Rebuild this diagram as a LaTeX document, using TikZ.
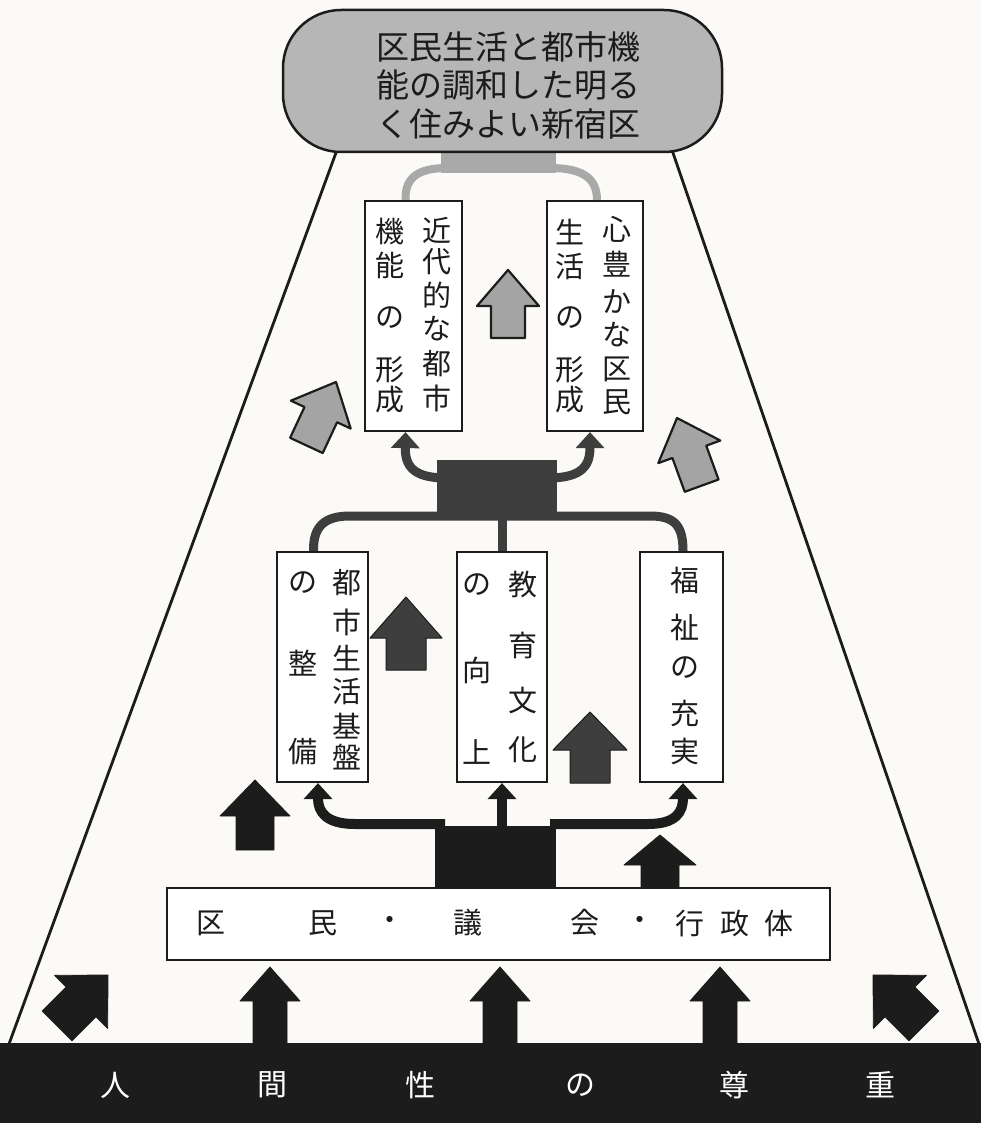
\documentclass[tikz,border=0pt]{standalone}
\usepackage{fontspec}
\setmainfont{Noto Sans CJK JP}
\usetikzlibrary{calc,arrows.meta}
\definecolor{paper}{HTML}{FBFAF6}
\definecolor{pillgray}{HTML}{B6B6B6}
\definecolor{lgray}{HTML}{A9A9A9}
\definecolor{agray}{HTML}{A4A4A4}
\definecolor{dgray}{HTML}{3E3E3E}
\definecolor{ink}{HTML}{1C1C1C}
\newcommand\blockarrow[8]{%
  \begin{scope}[shift={(#1,#2)},rotate=#3]
    \filldraw[#8] (0,0) -- (#4,#5) -- (#6,#5) -- (#6,#7) -- (-#6,#7) -- (-#6,#5) -- (-#4,#5) -- cycle;
  \end{scope}}
\tikzset{
  box/.style={draw=ink, line width=2.2pt, fill=white, inner sep=0pt},
  ch/.style={font=\fontsize{29}{29}\selectfont, inner sep=0pt, text=ink},
  pill/.style={draw=ink, line width=2.5pt, fill=pillgray, rounded corners=58pt, minimum width=439pt, minimum height=142pt, inner sep=0pt},
  pilltxt/.style={align=center, font=\fontsize{33}{38.5}\selectfont, inner sep=0pt, text=ink},
  bandtxt/.style={font=\fontsize{30}{30}\selectfont, inner sep=0pt, text=white},
  darr/.style={fill=dgray, draw=ink, line width=1pt, line join=round},
  garr/.style={fill=agray, draw=ink, line width=2.2pt, line join=round},
  barr/.style={fill=ink, draw=ink, line width=0.8pt, line join=round},
  gconn/.style={draw=lgray, line width=8pt},
  mconn/.style={draw=dgray, line width=9pt},
  lconn/.style={draw=ink, line width=10pt},
  tip/.style={-{Triangle[width=28pt,length=16pt]}}
}
\begin{document}
\begin{tikzpicture}[x=1pt,y=-1pt]
\fill[paper] (0,0) rectangle (981,1123);
\useasboundingbox (0,0) rectangle (981,1123);

% trapezoid
\coordinate (tl) at (337,150);
\coordinate (tr) at (672,150);
\coordinate (bl) at (9,1044);
\coordinate (br) at (979,1044);
\draw[ink, line width=2.8pt] (tl) -- (bl);
\draw[ink, line width=2.8pt] (tr) -- (br);

% bottom band
\fill[ink] (0,1043) rectangle (981,1123);
\node[bandtxt] (b1) at (115,1085) {人};
\node[bandtxt] (b2) at (272,1085) {間};
\node[bandtxt] (b3) at (420,1085) {性};
\node[bandtxt] (b4) at (580,1085) {の};
\node[bandtxt] (b5) at (734,1085) {尊};
\node[bandtxt] (b6) at (880,1085) {重};

% top gray connector
\fill[lgray] (441,148) rectangle (556,173);

% goal pill
\node[pill] (goal) at (502.5,81) {};
\node[pilltxt] (goaltxt) at (508,85) {区民生活と都市機\\能の調和した明る\\く住みよい新宿区};

% upper boxes
\node[box, minimum width=97pt, minimum height=230pt] (ul) at (413.5,316) {};
\node[box, minimum width=96pt, minimum height=230pt] (ur) at (595,316) {};
\draw[gconn] (447,168) .. controls (415,168) and (405,180) .. ($(ul.north)+(-8,0)$);
\draw[gconn] (550,168) .. controls (585,168) and (597,180) .. ($(ur.north)+(2,0)$);

\foreach \c/\yy [count=\i] in {近/230,代/262,的/295,な/329,都/364,市/398}
  \node[ch] (ulr\i) at (437,\yy) {\c};
\foreach \c/\yy [count=\i] in {機/232,能/265,の/318,形/370,成/400}
  \node[ch] (ull\i) at (390,\yy) {\c};
\foreach \c/\yy [count=\i] in {心/229,豊/264,か/301,な/335,区/369,民/402}
  \node[ch] (urr\i) at (617,\yy) {\c};
\foreach \c/\yy [count=\i] in {生/232,活/267,の/318,形/370,成/400}
  \node[ch] (url\i) at (570,\yy) {\c};

% middle boxes
\node[box, minimum width=91pt, minimum height=230pt] (lb) at (322.5,667) {};
\node[box, minimum width=90pt, minimum height=230pt] (mb) at (502,667) {};
\node[box, minimum width=83pt, minimum height=230pt] (rb) at (681.5,667) {};

\foreach \c/\yy [count=\i] in {都/583,市/622,生/658,活/692,基/726,盤/757}
  \node[ch] (lbr\i) at (347,\yy) {\c};
\foreach \c/\yy [count=\i] in {の/583,整/663,備/752}
  \node[ch] (lbl\i) at (303,\yy) {\c};
\foreach \c/\yy [count=\i] in {教/585,育/645,文/700,化/750}
  \node[ch] (mbr\i) at (523,\yy) {\c};
\foreach \c/\yy [count=\i] in {の/585,向/670,上/752}
  \node[ch] (mbl\i) at (477,\yy) {\c};
\foreach \c/\yy [count=\i] in {福/580,祉/627,の/668,充/713,実/752}
  \node[ch] (rbc\i) at (685,\yy) {\c};

% middle dark connector
\fill[dgray] (437,460) rectangle (557,514);
\draw[mconn, tip] (446,478) .. controls (412,478) and (405,465) .. ($(ul.south)+(-8,0)$);
\draw[mconn, tip] (548,478) .. controls (583,478) and (590,465) .. ($(ur.south)+(-5,0)$);
\draw[mconn] ($(lb.north)+(-9,0)$) .. controls (313,526) and (325,516) .. (350,516) -- (650,516) .. controls (675,516) and (683,526) .. ($(rb.north)+(1.5,0)$);
\draw[mconn] (mb.north) -- (502,512);

% citizens box
\node[box, minimum width=663pt, minimum height=72pt] (cb) at (498.5,924) {};
\node[ch] (cb1) at (211,923) {区};
\node[ch] (cb2) at (323,923) {民};
\node[ch] (cb3) at (390,923) {・};
\node[ch] (cb4) at (468,923) {議};
\node[ch] (cb5) at (585,923) {会};
\node[ch] (cb6) at (640,923) {・};
\node[ch] (cb7) at (690,923) {行};
\node[ch] (cb8) at (735,923) {政};
\node[ch] (cb9) at (779,923) {体};

% lower black connector
\fill[ink] (435,826) rectangle (556,889);
\draw[lconn, tip] (445,824) -- (355,824) .. controls (326,824) and (318,812) .. ($(lb.south)+(-4.5,0)$);
\draw[lconn, tip] (550,824) -- (648,824) .. controls (676,824) and (683,812) .. ($(rb.south)+(1.5,0)$);
\draw[lconn, tip] (502,828) -- (mb.south);

% gray arrows
\blockarrow{508}{270}{0}{31}{36}{17}{68}{garr}
\blockarrow{336}{382}{-25}{33}{36}{18}{70}{garr}
\blockarrow{677}{418}{20}{33}{36}{18}{72}{garr}

% dark arrows
\blockarrow{406}{597}{0}{36}{41}{20}{73}{darr}
\blockarrow{590}{712}{0}{37}{38}{20}{71}{darr}
\blockarrow{255}{780}{0}{35}{36}{19}{70}{barr}
\blockarrow{660}{835}{0}{36}{30}{19}{53}{barr}

% bottom arrows
\blockarrow{270}{967}{0}{30}{34}{17}{77}{barr}
\blockarrow{500}{967}{0}{30}{34}{17}{77}{barr}
\blockarrow{720}{967}{0}{30}{34}{17}{77}{barr}
\begin{scope}
  \clip (tl) -- (bl) -- (br) -- (tr) -- cycle;
  \blockarrow{108}{975}{-45}{37.5}{38}{21}{72}{barr}
  \blockarrow{873}{975}{45}{37.5}{38}{21}{72}{barr}
\end{scope}
\end{tikzpicture}
\end{document}
